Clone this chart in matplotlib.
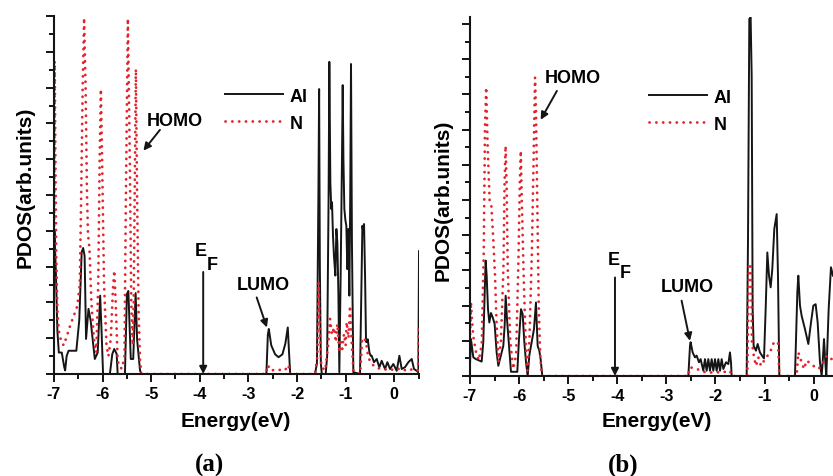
import matplotlib
matplotlib.use('Agg')
import matplotlib.pyplot as plt
from matplotlib.ticker import MultipleLocator

plt.rcParams['font.family'] = ['Liberation Sans', 'DejaVu Sans']
plt.rcParams['font.weight'] = 'bold'
plt.rcParams['axes.unicode_minus'] = False

# ---- panel (a): Al PDOS
e_al_a = [-7.0, -6.99, -6.96, -6.93, -6.90, -6.84, -6.79, -6.77, -6.74, -6.70,
          -6.62, -6.54, -6.48, -6.43, -6.40, -6.37, -6.34, -6.29, -6.245, -6.19,
          -6.16, -6.10, -6.05, -6.02, -5.99, -5.85, -5.80, -5.76, -5.71, -5.69,
          -5.54, -5.50, -5.47, -5.42, -5.37, -5.32, -5.29, -5.23, -5.20,
          -2.63, -2.60, -2.58, -2.53, -2.45, -2.38, -2.30, -2.24, -2.19, -2.16, -2.14,
          -1.63, -1.59, -1.56, -1.545, -1.53, -1.51, -1.49, -1.41, -1.38, -1.35,
          -1.335, -1.314, -1.295, -1.28, -1.26, -1.24, -1.211, -1.19, -1.17, -1.149,
          -1.129, -1.10, -1.075, -1.06, -1.045, -1.026, -1.005, -0.985, -0.965, -0.945,
          -0.923, -0.905, -0.889, -0.87, -0.841, -0.704, -0.68, -0.655, -0.64, -0.621,
          -0.60, -0.58, -0.566, -0.545, -0.51, -0.484, -0.464, -0.416, -0.361, -0.306,
          -0.258, -0.189, -0.141, -0.086, -0.018, 0.051, 0.106, 0.154, 0.222, 0.291,
          0.360, 0.407, 0.462, 0.497, 0.51, 0.52]
al_a = [2.5, 4.0, 2.8, 1.2, 0.6, 0.6, 0.2, 0.1, 0.5, 0.65,
        0.65, 0.65, 1.5, 3.4, 3.52, 3.3, 0.98, 1.82, 1.49, 0.79,
        0.42, 0.6, 2.19, 1.16, 0.0, 0.0, 0.56, 0.70, 0.56, 0.0,
        0.0, 2.23, 2.32, 0.42, 0.42, 2.26, 0.97, 0.1, 0.0,
        0.0, 1.1, 1.26, 0.8, 0.55, 0.47, 0.55, 0.85, 1.30, 0.5, 0.0,
        0.0, 0.3, 5.0, 7.96, 3.0, 0.3, 0.0, 0.0, 0.5, 5.0,
        8.72, 5.35, 4.61, 4.8, 3.87, 3.3, 2.75, 4.05, 3.68, 2.28,
        0.05, 3.0, 6.0, 8.07, 6.0, 4.61, 4.3, 4.14, 2.93, 4.05,
        2.19, 5.0, 8.66, 3.68, 0.05, 0.0, 2.0, 4.14, 4.0, 4.19,
        2.75, 0.9, 0.89, 0.97, 0.6, 0.51, 0.51, 0.33, 0.42, 0.19,
        0.37, 0.14, 0.33, 0.14, 0.28, 0.09, 0.51, 0.14, 0.19, 0.33,
        0.42, 0.14, 0.09, 0.05, 3.44, 3.44]

# ---- panel (a): N PDOS
e_n_a = [-7.0, -6.985, -6.97, -6.955, -6.93, -6.90, -6.85, -6.80, -6.75, -6.68,
         -6.60, -6.52, -6.47, -6.44, -6.41, -6.38, -6.35, -6.32, -6.30, -6.27,
         -6.23, -6.18, -6.13, -6.09, -6.06, -6.035, -6.01, -5.97, -5.92, -5.88,
         -5.83, -5.79, -5.76, -5.73, -5.69, -5.66, -5.60, -5.55, -5.52, -5.48,
         -5.44, -5.41, -5.38, -5.36, -5.34, -5.315, -5.29, -5.26, -5.23, -5.20,
         -2.64, -2.60, -2.55, -2.40, -2.25, -2.18, -2.14,
         -1.63, -1.58, -1.555, -1.53, -1.50, -1.42, -1.36, -1.32, -1.28, -1.24,
         -1.20, -1.17, -1.13, -1.115, -1.07, -1.033, -1.0, -0.978, -0.94, -0.91,
         -0.875, -0.84, -0.70, -0.66, -0.62, -0.58, -0.55, -0.50, -0.40, -0.30,
         -0.20, -0.10, 0.0, 0.1, 0.2, 0.3, 0.4, 0.49, 0.505, 0.52]
n_a = [3.0, 8.74, 6.0, 3.5, 1.8, 1.2, 0.9, 0.8, 1.0, 1.3,
       1.6, 1.9, 2.5, 5.0, 8.0, 9.95, 8.0, 5.0, 3.9, 3.5,
       2.0, 1.0, 0.6, 2.5, 6.0, 7.96, 6.0, 2.5, 0.8, 0.5,
       1.0, 2.3, 2.89, 2.0, 0.4, 0.2, 0.15, 0.5, 5.0, 9.93,
       6.0, 2.0, 0.8, 2.0, 5.0, 8.52, 5.0, 1.8, 0.4, 0.0,
       0.0, 0.25, 0.1, 0.12, 0.1, 0.25, 0.0,
       0.0, 0.5, 2.56, 1.2, 0.2, 0.1, 0.8, 1.54, 1.1, 1.3,
       0.89, 1.4, 0.6, 0.98, 0.7, 1.12, 0.8, 1.45, 1.0, 1.91,
       0.89, 0.1, 0.0, 1.0, 1.0, 0.9, 0.6, 0.35, 0.2, 0.15,
       0.12, 0.15, 0.1, 0.15, 0.1, 0.15, 0.1, 0.1, 1.40, 1.40]

# ---- panel (b): Al PDOS
e_al_b = [-7.0, -6.98, -6.932, -6.878, -6.762, -6.729, -6.70, -6.681, -6.66, -6.633,
          -6.606, -6.572, -6.538, -6.498, -6.457, -6.423, -6.355, -6.321, -6.294, -6.273,
          -6.246, -6.205, -6.165, -6.036, -6.002, -5.961, -5.927, -5.893, -5.859, -5.825,
          -5.792, -5.744, -5.697, -5.656, -5.622, -5.588, -5.561, -5.527,
          -2.553, -2.519, -2.506, -2.465, -2.417, -2.384, -2.336, -2.302, -2.248, -2.214,
          -2.18, -2.146, -2.112, -2.078, -2.044, -2.01, -1.976, -1.942, -1.908, -1.874,
          -1.84, -1.786, -1.739, -1.705, -1.684, -1.671,
          -1.365, -1.338, -1.311, -1.284, -1.263, -1.243, -1.223, -1.175, -1.141, -1.094,
          -1.053, -1.012, -0.978, -0.944, -0.910, -0.876, -0.843, -0.802, -0.754, -0.727,
          -0.700, -0.381, -0.333, -0.313, -0.279, -0.245, -0.177, -0.109, -0.055, -0.007,
          0.04, 0.081, 0.128, 0.162, 0.183, 0.21, 0.237, 0.257, 0.305, 0.352, 0.393]
al_b = [0.3, 1.05, 0.53, 0.48, 0.41, 0.96, 2.38, 3.28, 2.85, 1.9,
        1.52, 1.79, 1.67, 1.48, 0.67, 0.29, 0.67, 0.86, 1.43, 2.28,
        1.62, 0.86, 0.12, 0.12, 1.05, 1.90, 1.76, 0.96, 0.39, 0.0,
        0.58, 0.96, 1.33, 2.09, 0.86, 0.72, 0.48, 0.0,
        0.0, 0.86, 0.96, 0.67, 0.53, 0.58, 0.39, 0.48, 0.15, 0.48,
        0.15, 0.48, 0.15, 0.48, 0.15, 0.48, 0.15, 0.48, 0.15, 0.48,
        0.2, 0.39, 0.34, 0.67, 0.39, 0.0,
        0.0, 3.8, 10.14, 10.19, 8.53, 1.9, 0.86, 0.72, 0.91, 0.67,
        0.58, 0.5, 1.9, 3.51, 2.85, 2.52, 3.04, 4.18, 4.6, 2.85,
        0.0, 0.0, 2.38, 2.85, 2.0, 1.71, 1.33, 0.91, 1.52, 2.0,
        2.04, 1.52, 0.39, 0.0, 0.39, 1.05, 0.39, 0.0, 1.9, 3.09, 2.85]

# ---- panel (b): N PDOS
e_n_b = [-7.0, -6.98, -6.96, -6.93, -6.88, -6.82, -6.76, -6.72, -6.695, -6.67,
         -6.64, -6.60, -6.565, -6.53, -6.49, -6.457, -6.42, -6.37, -6.32, -6.295,
         -6.275, -6.255, -6.23, -6.18, -6.12, -6.06, -6.01, -5.985, -5.965, -5.945,
         -5.90, -5.86, -5.83, -5.79, -5.74, -5.70, -5.675, -5.655, -5.63, -5.60,
         -5.57, -5.54,
         -2.56, -2.52, -2.38, -2.2, -2.0, -1.8, -1.705, -1.67,
         -1.352, -1.318, -1.277, -1.257, -1.216, -1.175, -1.127, -1.073, -0.992, -0.89,
         -0.809, -0.727, -0.70, -0.347, -0.313, -0.245, -0.197, -0.143, -0.007, 0.094,
         0.162, 0.264, 0.366, 0.393]
n_b = [1.0, 2.1, 1.6, 1.1, 0.7, 0.45, 0.9, 3.5, 7.0, 8.2,
       6.5, 5.0, 4.84, 4.0, 2.85, 1.43, 0.4, 1.0, 3.0, 5.5,
       6.54, 5.5, 3.0, 1.0, 0.2, 0.6, 3.5, 5.5, 6.4, 5.0,
       2.5, 0.8, 0.15, 1.0, 3.5, 6.5, 8.48, 7.5, 5.0, 2.0,
       0.6, 0.0,
       0.0, 0.25, 0.2, 0.1, 0.1, 0.12, 0.15, 0.0,
       0.0, 3.18, 3.18, 0.96, 0.53, 0.29, 0.53, 0.29, 0.48, 0.67,
       0.96, 0.96, 0.0, 0.0, 0.67, 0.39, 0.2, 0.44, 0.29, 0.2,
       0.29, 0.58, 0.48, 0.5]

BLACK = '#151515'
RED = '#e4222c'

fig = plt.figure(figsize=(8.33, 4.77), dpi=100)
ax_a = fig.add_axes([0.0648, 0.2138, 0.4388, 0.7505])
ax_b = fig.add_axes([0.5642, 0.2096, 0.4356, 0.7527])


def style_axis(ax, xmax, ymax):
    ax.set_xlim(-7, xmax)
    ax.set_ylim(0, ymax)
    for s in ['top', 'right']:
        ax.spines[s].set_visible(False)
    for s in ['left', 'bottom']:
        ax.spines[s].set_linewidth(1.5)
        ax.spines[s].set_color(BLACK)
    ax.xaxis.set_major_locator(MultipleLocator(1))
    ax.xaxis.set_minor_locator(MultipleLocator(0.5))
    ax.yaxis.set_major_locator(MultipleLocator(1))
    ax.yaxis.set_minor_locator(MultipleLocator(0.5))
    ax.tick_params(which='major', direction='out', length=5.5, width=1.3,
                   labelsize=11.5, pad=3)
    ax.tick_params(which='minor', direction='out', length=3.5, width=1.3)
    ax.tick_params(axis='y', labelleft=False)
    ax.patch.set_visible(False)


def draw(ax, e_al, al, e_n, n):
    ax.plot(e_al, al, color=BLACK, lw=1.4, label='Al')
    ax.plot(e_n, n, color=RED, lw=2.0, linestyle=(0, (0.05, 2.4)),
            dash_capstyle='round', label='N')


def arrow(ax, tail, head):
    ax.annotate('', xy=head, xytext=tail,
                arrowprops=dict(arrowstyle='-|>', color=BLACK, lw=1.4,
                                mutation_scale=11, shrinkA=0, shrinkB=0))


draw(ax_a, e_al_a, al_a, e_n_a, n_a)
draw(ax_b, e_al_b, al_b, e_n_b, n_b)
style_axis(ax_a, 0.52, 10.0)
style_axis(ax_b, 0.39, 10.2)

for ax, x0, y0 in [(ax_a, 0.468, 0.80), (ax_b, 0.493, 0.80)]:
    ax.legend(frameon=False, loc='upper left', bbox_to_anchor=(x0, y0),
              handlelength=3.2, handletextpad=0.4, labelspacing=0.55,
              borderpad=0, borderaxespad=0, prop={'size': 13, 'weight': 'bold'})

# annotations (a)
ax_a.text(-4.51, 7.07, 'HOMO', ha='center', va='center', fontsize=13)
arrow(ax_a, (-4.82, 6.82), (-5.16, 6.24))
ax_a.text(-3.975, 3.44, 'E', ha='center', va='center', fontsize=13)
ax_a.text(-3.75, 3.07, 'F', ha='center', va='center', fontsize=13)
arrow(ax_a, (-3.93, 2.85), (-3.93, 0.0))
ax_a.text(-2.70, 2.49, 'LUMO', ha='center', va='center', fontsize=13)
arrow(ax_a, (-2.83, 2.14), (-2.62, 1.30))

# annotations (b)
ax_b.text(-4.90, 8.47, 'HOMO', ha='center', va='center', fontsize=13)
arrow(ax_b, (-5.23, 8.10), (-5.56, 7.28))
ax_b.text(-4.067, 3.30, 'E', ha='center', va='center', fontsize=13)
ax_b.text(-3.84, 2.93, 'F', ha='center', va='center', fontsize=13)
arrow(ax_b, (-4.047, 2.80), (-4.047, 0.0))
ax_b.text(-2.58, 2.53, 'LUMO', ha='center', va='center', fontsize=13)
arrow(ax_b, (-2.69, 2.14), (-2.52, 1.00))

# axis titles and panel labels
fig.text(25 / 833, 1 - 187 / 477, 'PDOS(arb.units)', rotation=90,
         ha='center', va='center', fontsize=15)
fig.text(443 / 833, 1 - 200 / 477, 'PDOS(arb.units)', rotation=90,
         ha='center', va='center', fontsize=15)
fig.text(236 / 833, 1 - 422 / 477, 'Energy(eV)', ha='center', va='center', fontsize=15)
fig.text(657 / 833, 1 - 422 / 477, 'Energy(eV)', ha='center', va='center', fontsize=15)
fig.text(209 / 833, 1 - 465 / 477, '(a)', ha='center', va='center', fontsize=18,
         family='Liberation Serif')
fig.text(623 / 833, 1 - 465 / 477, '(b)', ha='center', va='center', fontsize=18,
         family='Liberation Serif')

fig.savefig('out.png', dpi=100)
